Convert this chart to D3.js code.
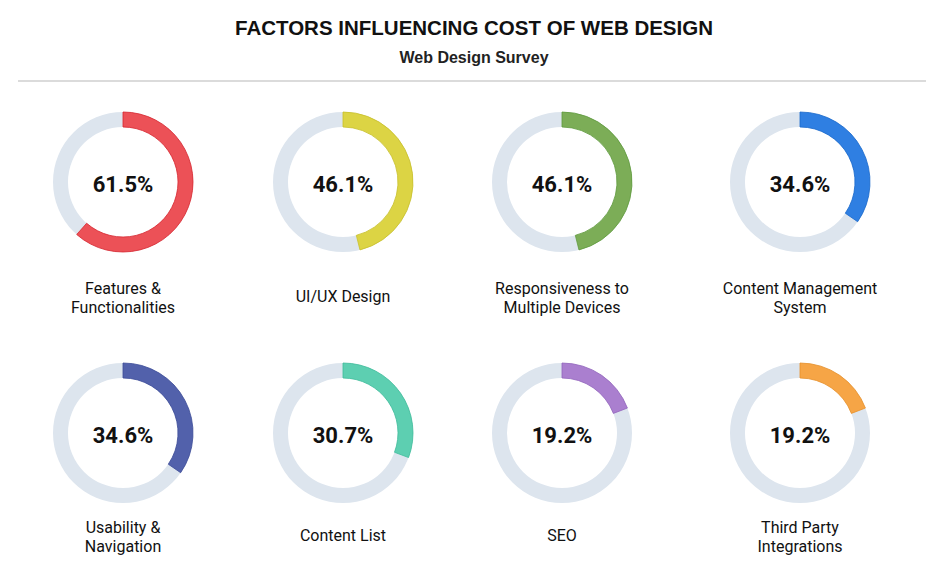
<!DOCTYPE html>
<html><head><meta charset="utf-8">
<script src="https://cdn.jsdelivr.net/npm/d3@7"></script>
<style>body{margin:0;background:#fff}svg{display:block}</style>
</head><body>
<svg id="chart" width="947" height="574"></svg>
<script>
const categories = [["Features &","Functionalities"],["UI/UX Design"],["Responsiveness to","Multiple Devices"],["Content Management","System"],["Usability &","Navigation"],["Content List"],["SEO"],["Third Party","Integrations"]];
const values = [61.5, 46.1, 46.1, 34.6, 34.6, 30.7, 19.2, 19.2];
const colors = ["#ec5157","#dcd444","#7cad57","#2f7fe2","#5261ab","#5dcfb1","#aa7fcf","#f6a546"];
const strokes = ["#d8262f","#c9c02a","#5f9a3c","#1b69cc","#3d4c98","#3fbc9b","#9365bd","#e8902a"];

const svg = d3.select("#chart");
svg.append("rect").attr("width",947).attr("height",574).attr("fill","#fff");
svg.append("text").attr("x",474).attr("y",35).attr("text-anchor","middle")
  .style("font-family","Liberation Sans, Arial, sans-serif").style("font-weight","bold").style("font-size","20.5px").attr("fill","#111")
  .text("FACTORS INFLUENCING COST OF WEB DESIGN");
svg.append("text").attr("x",474).attr("y",63).attr("text-anchor","middle")
  .style("font-family","Liberation Sans, Arial, sans-serif").style("font-weight","bold").style("font-size","16px").attr("fill","#222")
  .text("Web Design Survey");
svg.append("line").attr("x1",18).attr("x2",926).attr("y1",81).attr("y2",81).attr("stroke","#cfcfcf").attr("stroke-width",1.5);

const col = d3.scaleOrdinal().domain(d3.range(4)).range([123,343,562,800]);
const row = d3.scaleOrdinal().domain([0,1]).range([182,433]);
const labelOffset = d3.scaleOrdinal().domain([0,1]).range([112,100]);
const pct = d3.scaleLinear().domain([0,100]).range([0,2*Math.PI]);
const arc = d3.arc().innerRadius(55).outerRadius(70);

values.forEach((v,i)=>{
  const r = Math.floor(i/4);
  const g = svg.append("g").attr("transform",`translate(${col(i%4)},${row(r)})`);
  g.append("path").attr("d",arc({startAngle:0,endAngle:2*Math.PI})).attr("fill","#dde5ee");
  g.append("path").attr("d",arc({startAngle:0,endAngle:pct(v)})).attr("fill",colors[i]).attr("stroke",strokes[i]).attr("stroke-width",0.8);
  g.append("text").attr("y",10).attr("text-anchor","middle")
    .style("font-family","Roboto, sans-serif").style("font-weight","bold").style("font-size","22px").attr("fill","#111")
    .text(v.toFixed(1)+"%");
  const lines = categories[i];
  const baseY = labelOffset(r) + (lines.length===1 ? 8 : 0);
  lines.forEach((t,j)=>{
    g.append("text").attr("y",baseY + j*19).attr("text-anchor","middle")
      .style("font-family","Roboto, sans-serif").style("font-size","16px").attr("fill","#111").text(t);
  });
});
</script>
</body></html>
